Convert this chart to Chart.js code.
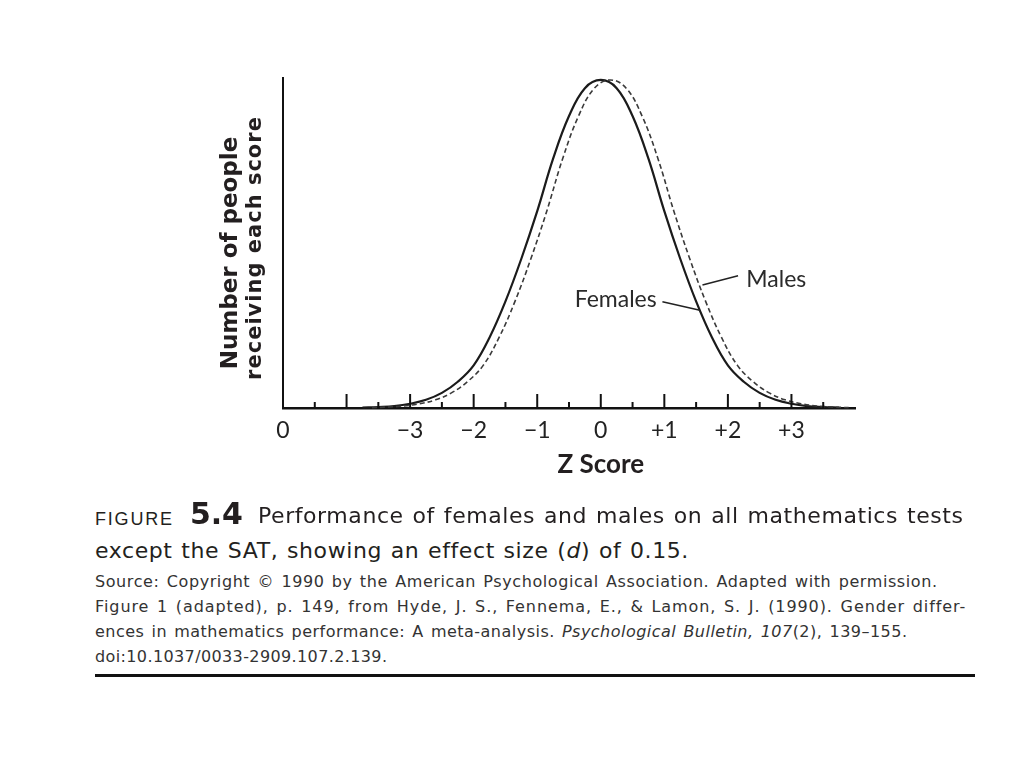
<!DOCTYPE html>
<html>
<head>
<meta charset="utf-8">
<title>Figure 5.4</title>
<script src="https://cdn.jsdelivr.net/npm/chart.js@4.4.0/dist/chart.umd.min.js"></script>
<style>
  html, body { margin: 0; padding: 0; background: #fff; }
  body { width: 1024px; height: 768px; position: relative; overflow: hidden; }
  #chart-wrap { position: absolute; left: 0; top: 0; width: 1024px; height: 500px; }
  .t { position: absolute; white-space: nowrap; line-height: 1; color: #231f20; font-family: "DejaVu Sans", sans-serif; }
  .fig { font-size: 18px; font-family: "Liberation Sans", Arial, sans-serif; }
  .num { font-size: 30px; font-weight: bold; }
  .cap { font-size: 22px; }
  .src { font-size: 16px; color: #333; }
  #rule { position: absolute; left: 95px; top: 674px; width: 880px; height: 3px; background: #111; }
</style>
</head>
<body>
<div id="chart-wrap"><canvas id="normalChart" width="1024" height="500"></canvas></div>

<div class="t fig" data-w="77" style="left:95px; top:510px;">FIGURE</div>
<div class="t num" data-w="53" style="left:190px; top:499px;">5.4</div>
<div class="t cap" data-w="705" style="left:258px; top:505px;">Performance of females and males on all mathematics tests</div>
<div class="t cap" data-w="593" style="left:95px; top:540px;">except the SAT, showing an effect size (<i>d</i>) of 0.15.</div>

<div class="t src" data-w="842" style="left:95px; top:574px;">Source: Copyright &copy; 1990 by the American Psychological Association. Adapted with permission.</div>
<div class="t src" data-w="870" style="left:95px; top:599px;">Figure 1 (adapted), p. 149, from Hyde, J. S., Fennema, E., &amp; Lamon, S. J. (1990). Gender differ-</div>
<div class="t src" data-w="812" style="left:95px; top:624px;">ences in mathematics performance: A meta-analysis. <i>Psychological Bulletin, 107</i>(2), 139&ndash;155.</div>
<div class="t src" data-w="292" style="left:95px; top:649px;">doi:10.1037/0033-2909.107.2.139.</div>
<div id="rule"></div>

<script>
// z positions (0.25 steps)
var femaleZ = [-3.75, -3.5, -3.25, -3, -2.75, -2.5, -2.25, -2, -1.75, -1.5, -1.25, -1, -0.75, -0.5, -0.25,
  0, 0.25, 0.5, 0.75, 1, 1.25, 1.5, 1.75, 2, 2.25, 2.5, 2.75, 3, 3.25, 3.5, 3.75];
// relative height of each curve (peak = 100)
var femaleHeights = [0.1, 0.3, 0.6, 1.3, 2.5, 4.6, 8, 13, 21.5, 32.5, 45.5, 60, 76, 89, 97.5,
  100, 97.5, 89, 76, 60, 45.5, 32.5, 21.5, 13, 8, 4.6, 2.5, 1.3, 0.6, 0.3, 0.1];
// males curve sits a little to the right (d = 0.15)
var maleZ = [-3.6, -3.35, -3.1, -2.85, -2.6, -2.35, -2.1, -1.85, -1.6, -1.35, -1.1, -0.85, -0.6, -0.35, -0.1,
  0.15, 0.4, 0.65, 0.9, 1.15, 1.4, 1.65, 1.9, 2.15, 2.4, 2.65, 2.9, 3.15, 3.4, 3.65, 3.9];
var maleHeights = [0.1, 0.3, 0.6, 1.3, 2.5, 4.6, 8, 13, 21.5, 32.5, 45.5, 60, 76, 89, 97.5,
  100, 97.5, 89, 76, 60, 45.5, 32.5, 21.5, 13, 8, 4.6, 2.5, 1.3, 0.6, 0.3, 0.1];

// axis ticks (every half unit) and the labels printed under some of them
var tickValues = [-5, -4.5, -4, -3.5, -3, -2.5, -2, -1.5, -1, -0.5, 0, 0.5, 1, 1.5, 2, 2.5, 3, 3.5];
var labelValues = [-5, -3, -2, -1, 0, 1, 2, 3];
var labelTexts = ['0', '\u22123', '\u22122', '\u22121', '0', '+1', '+2', '+3'];

function toPoints(xs, ys) {
  return xs.map(function (x, i) { return { x: x, y: ys[i] }; });
}

// inward tick marks, axis titles and the two curve labels
var decorPlugin = {
  id: 'decor',
  afterDraw: function (chart) {
    var ctx = chart.ctx;
    var xs = chart.scales.x, ys = chart.scales.y;
    var area = chart.chartArea;
    ctx.save();
    ctx.strokeStyle = '#111';
    ctx.lineWidth = 2;
    tickValues.forEach(function (v) {
      var px = xs.getPixelForValue(v);
      var len = (v % 1 === 0) ? 14 : 6;
      ctx.beginPath();
      ctx.moveTo(px, area.bottom);
      ctx.lineTo(px, area.bottom - len);
      ctx.stroke();
    });

    // y title, two lines rotated
    ctx.fillStyle = '#231f20';
    ctx.textAlign = 'center';
    ctx.textBaseline = 'alphabetic';
    ctx.save();
    ctx.translate(237, 253);
    ctx.rotate(-Math.PI / 2);
    ctx.font = 'bold 23px "DejaVu Sans"';
    ctx.fillText('Number of people', 0, 0);
    ctx.restore();
    ctx.save();
    ctx.translate(261, 248);
    ctx.rotate(-Math.PI / 2);
    ctx.font = 'bold 21px "DejaVu Sans"';
    ctx.letterSpacing = '1px';
    ctx.fillText('receiving each score', 0, 0);
    ctx.restore();

    // x title
    ctx.font = 'bold 26px Lato';
    ctx.fillText('Z Score', xs.getPixelForValue(0), 473);

    // curve labels with leader lines
    ctx.font = '23px Lato';
    ctx.fillStyle = '#2a2a2a';
    ctx.textAlign = 'left';
    ctx.fillText('Males', xs.getPixelForValue(2.29), ys.getPixelForValue(36.8));
    ctx.textAlign = 'right';
    ctx.fillText('Females', xs.getPixelForValue(0.88), ys.getPixelForValue(30.7));
    ctx.strokeStyle = '#222';
    ctx.lineWidth = 1.5;
    ctx.beginPath();
    ctx.moveTo(xs.getPixelForValue(2.16), ys.getPixelForValue(40.3));
    ctx.lineTo(xs.getPixelForValue(1.60), ys.getPixelForValue(37.5));
    ctx.moveTo(xs.getPixelForValue(0.97), ys.getPixelForValue(32.4));
    ctx.lineTo(xs.getPixelForValue(1.56), ys.getPixelForValue(29.8));
    ctx.stroke();
    ctx.restore();
  }
};

var ctx = document.getElementById('normalChart').getContext('2d');
var chart = new Chart(ctx, {
  type: 'line',
  data: {
    datasets: [{
      label: 'Males',
      data: toPoints(maleZ, maleHeights),
      borderColor: '#3a3a3a',
      borderWidth: 1.6,
      borderDash: [5, 3],
      pointRadius: 0,
      tension: 0.4,
      fill: false
    }, {
      label: 'Females',
      data: toPoints(femaleZ, femaleHeights),
      borderColor: '#1b1b1b',
      borderWidth: 2.2,
      pointRadius: 0,
      tension: 0.4,
      fill: false
    }]
  },
  options: {
    responsive: false,
    animation: false,
    clip: false,
    layout: { padding: { left: 283, top: 78, right: 169, bottom: 0 } },
    plugins: { legend: { display: false }, tooltip: { enabled: false } },
    scales: {
      x: {
        type: 'linear', min: -5, max: 4,
        afterBuildTicks: function (scale) {
          scale.ticks = tickValues.map(function (v) { return { value: v }; });
        },
        afterFit: function (scale) { scale.height = 92; },
        grid: { display: false, drawTicks: false },
        border: { display: true, color: '#111', width: 2.5 },
        ticks: {
          autoSkip: false, maxRotation: 0, minRotation: 0, padding: 9,
          color: '#222', font: { family: 'Lato', size: 23 },
          callback: function (v) {
            var i = labelValues.indexOf(v);
            return i < 0 ? '' : labelTexts[i];
          }
        }
      },
      y: {
        min: 0, max: 100.6,
        afterFit: function (scale) { scale.width = 0; },
        grid: { display: false, drawTicks: false },
        border: { display: true, color: '#111', width: 2 },
        ticks: { display: false }
      }
    }
  },
  plugins: [decorPlugin]
});

// stretch caption lines to the widths they have in the figure:
// a quarter of the gap goes between words, the rest between letters
Array.prototype.forEach.call(document.querySelectorAll('.t[data-w]'), function (el) {
  var target = parseFloat(el.getAttribute('data-w'));
  var text = el.textContent;
  var extra = target - el.getBoundingClientRect().width;
  var spaces = (text.match(/ /g) || []).length;
  var n = text.length - 1;
  if (spaces > 0) {
    el.style.wordSpacing = (extra * 0.25 / spaces).toFixed(3) + 'px';
    extra = extra * 0.75;
  }
  if (n > 0) el.style.letterSpacing = (extra / n).toFixed(3) + 'px';
});
</script>
</body>
</html>
